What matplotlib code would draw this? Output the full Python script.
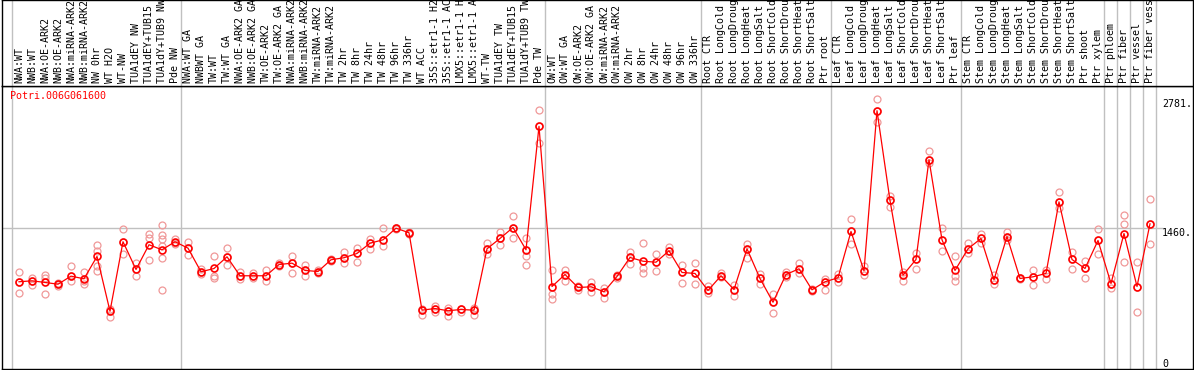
import matplotlib
matplotlib.use('Agg')
import matplotlib.pyplot as plt
import matplotlib.transforms as mtransforms

gene = 'Potri.006G061600'

labels = [
    'NWA:WT', 'NWB:WT', 'NWA:OE-ARK2', 'NWB:OE-ARK2', 'NWA:miRNA-ARK2',
    'NWB:miRNA-ARK2', 'NW 0hr', 'WT H2O', 'WT-NW', 'TUA1dEY NW',
    'TUA1dEY+TUB15 NW', 'TUA1dY+TUB9 NW', 'Pde NW',
    'NWA:WT GA', 'NWBWT GA', 'TW:WT', 'TW:WT GA', 'NWA:OE-ARK2 GA',
    'NWB:OE-ARK2 GA', 'TW:OE-ARK2', 'TW:OE-ARK2 GA', 'NWA:miRNA-ARK2 GA',
    'NWB:miRNA-ARK2 GA', 'TW:miRNA-ARK2', 'TW:miRNA-ARK2 GA', 'TW 2hr',
    'TW 8hr', 'TW 24hr', 'TW 48hr', 'TW 96hr', 'TW 336hr', 'WT ACC',
    '35S::etr1-1 H2O', '35S::etr1-1 ACC', 'LMX5::etr1-1 H2O',
    'LMX5::etr1-1 ACC', 'WT-TW', 'TUA1dEY TW', 'TUA1dEY+TUB15 TW',
    'TUA1dY+TUB9 TW', 'Pde TW',
    'OW:WT', 'OW:WT GA', 'OW:OE-ARK2', 'OW:OE-ARK2 GA', 'OW:miRNA-ARK2',
    'OW:miRNA-ARK2 GA', 'OW 2hr', 'OW 8hr', 'OW 24hr', 'OW 48hr', 'OW 96hr',
    'OW 336hr',
    'Root CTR', 'Root LongCold', 'Root LongDrought', 'Root LongHeat',
    'Root LongSalt', 'Root ShortCold', 'Root ShortDrought', 'Root ShortHeat',
    'Root ShortSalt', 'Ptr root',
    'Leaf CTR', 'Leaf LongCold', 'Leaf LongDrought', 'Leaf LongHeat',
    'Leaf LongSalt', 'Leaf ShortCold', 'Leaf ShortDrought', 'Leaf ShortHeat',
    'Leaf ShortSalt', 'Ptr leaf',
    'Stem CTR', 'Stem LongCold', 'Stem LongDrought', 'Stem LongHeat',
    'Stem LongSalt', 'Stem ShortCold', 'Stem ShortDrought', 'Stem ShortHeat',
    'Stem ShortSalt', 'Ptr shoot', 'Ptr xylem',
    'Ptr phloem', 'Ptr fiber', 'Ptr vessel', 'Ptr fiber vessel',
]

means = [
    900, 910, 893, 875, 958, 931, 1161, 596, 1313, 1027, 1282, 1230, 1313,
    1247, 1003, 1037, 1158, 962, 962, 962, 1078, 1092, 1017, 1006, 1127, 1148,
    1192, 1298, 1333, 1453, 1406, 607, 624, 601, 614, 607, 1240, 1347, 1460,
    1230, 2503,
    851, 975, 841, 848, 797, 955, 1151, 1112, 1102, 1220, 996, 986,
    810, 962, 820, 1240, 934, 689, 975, 1034, 817, 900,
    941, 1419, 1013, 2665, 1739, 968, 1130, 2159, 1333, 1017,
    1240, 1347, 921, 1367, 934, 951, 986, 1725, 1130, 1037, 1326,
    882, 1398, 851, 1498,
]

reps = [
    [996, 900, 782], [944, 910, 865], [968, 934, 776], [890, 875, 860],
    [1058, 958, 903], [996, 903, 882], [1282, 1216, 1061, 1009],
    [614, 596, 539], [1447, 1313, 1189], [1092, 1027, 958],
    [1388, 1350, 1127], [1481, 1381, 1344, 1267, 1148, 810],
    [1344, 1302, 1290],
    [1313, 1247, 1174], [1027, 1003, 982], [1171, 958, 941],
    [1244, 1158, 1071], [1000, 958, 928], [986, 962, 941], [1020, 962, 903],
    [1090, 1078, 1065], [1171, 1092, 993], [1068, 1017, 958],
    [1020, 1006, 995], [1140, 1127, 1115], [1205, 1148, 1089],
    [1251, 1192, 1109], [1340, 1298, 1240], [1450, 1333, 1267],
    [1460, 1453, 1440], [1415, 1406, 1398], [620, 607, 559],
    [648, 624, 593], [627, 601, 545], [624, 614, 593], [632, 607, 559],
    [1295, 1240, 1185], [1416, 1347, 1282], [1581, 1460, 1347],
    [1347, 1230, 1164, 1078], [2675, 2503, 2327],
    [1024, 769, 724], [1020, 975, 913], [854, 841, 820], [900, 848, 797],
    [831, 797, 735], [968, 955, 940], [1205, 1151, 1082],
    [1302, 1040, 993], [1182, 1102, 1013], [1261, 1220, 1190],
    [1068, 996, 890], [1089, 986, 879],
    [854, 810, 786], [986, 962, 947], [862, 820, 751], [1292, 1240, 1148],
    [982, 934, 872], [769, 689, 580], [999, 975, 951], [1089, 1034, 993],
    [828, 817, 803], [931, 900, 813],
    [982, 941, 896], [1550, 1419, 1292], [1061, 1013, 975],
    [2781, 2665, 2551], [1790, 1739, 1674], [999, 968, 906],
    [1199, 1130, 1034], [2245, 2159, 2121], [1460, 1333, 1220],
    [1171, 958, 906],
    [1302, 1240, 1199], [1394, 1347, 1302], [975, 921, 879],
    [1412, 1367, 1329], [941, 934, 924], [1017, 951, 865],
    [1020, 986, 931], [1829, 1725, 1664], [1210, 1130, 1034],
    [1112, 1037, 941], [1440, 1326, 1182],
    [941, 882, 831], [1584, 1498, 1099], [1106, 851, 593],
    [1756, 1498, 1285],
]

# group boundaries (number of columns before each separator)
groups = [0, 13, 41, 53, 63, 73, 84, 85, 86, 87, 88]
ticks = [0, 1460, 2781]

W, H = 1194, 370
fig = plt.figure(figsize=(W / 100, H / 100), dpi=100)
plt.rcParams['font.family'] = ['DejaVu Sans Mono']
fs = 7.2

left, right = 1.5, 1192.5
top_lab = 86
bottom = 369
xmin = (left - 19) / 13.0
xmax = (right - 19) / 13.0

ax = fig.add_axes([left / W, (H - bottom) / H, (right - left) / W,
                   (bottom - top_lab) / H])
hx = fig.add_axes([left / W, (H - top_lab) / H, (right - left) / W,
                   top_lab / H])

for a in (ax, hx):
    a.set_xlim(xmin, xmax)
    a.set_xticks([])
    a.set_yticks([])
    for s in a.spines.values():
        s.set_color('black')
        s.set_linewidth(1.0)
    for g in groups:
        a.axvline(g - 0.55, color='#c0c0c0', lw=1.0, zorder=0)

hx.set_ylim(0, 1)
ax.set_ylim(0, 2920)

# column labels
for i, lab in enumerate(labels):
    hx.text(i, 0.03, lab, rotation=90, ha='center', va='bottom',
            fontsize=fs, clip_on=True)

# gridline at middle tick
ax.plot([xmin, 87.9], [ticks[1], ticks[1]], color='#c0c0c0', lw=1.0,
        zorder=0)

x = list(range(len(means)))
for i, r in enumerate(reps):
    ax.plot([i] * len(r), r, 'o', ms=5, mfc='none', mec='#f09898',
            mew=0.9, zorder=2)
ax.plot(x, means, '-', color='red', lw=0.9, zorder=3)
ax.plot(x, means, 'o', ms=5, mfc='none', mec='red', mew=1.2, zorder=4)

ax.text(8.5 / (right - left), 1 - 5 / (bottom - top_lab), gene,
        transform=ax.transAxes, color='red', fontsize=fs, ha='left',
        va='top')

trans = mtransforms.blended_transform_factory(ax.transAxes, ax.transData)
tx = (1162 - left) / (right - left)
ax.text(tx, ticks[2], '%d.' % ticks[2], transform=trans, fontsize=fs,
        ha='left', va='top')
ax.text(tx, ticks[1], '%d.' % ticks[1], transform=trans, fontsize=fs,
        ha='left', va='top')
ax.text(tx, ticks[0], '%d' % ticks[0], transform=trans, fontsize=fs,
        ha='left', va='bottom')

fig.savefig('out.png', dpi=100)
